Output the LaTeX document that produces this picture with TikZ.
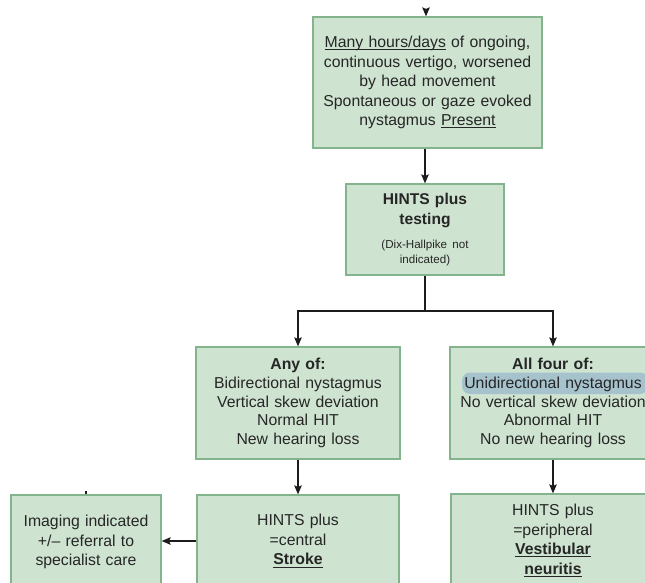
\documentclass[tikz,border=0pt]{standalone}
\usepackage{fontspec}
\setmainfont{Liberation Sans}
\usetikzlibrary{arrows.meta}
\definecolor{boxfill}{RGB}{207,227,209}
\definecolor{boxline}{RGB}{132,180,142}
\definecolor{txt}{RGB}{38,38,38}
\definecolor{hl}{RGB}{166,195,205}
\definecolor{arrowc}{RGB}{28,28,28}
\newcommand{\myul}[1]{\setbox0\hbox{#1}\rlap{\rule[-2.6pt]{\wd0}{0.9pt}}\box0{}}
\begin{document}
\begin{tikzpicture}[x=1pt,y=-1pt,
  box/.style={draw=boxline, fill=boxfill, line width=1.2pt, inner sep=0pt,
    text=txt, align=center, font=\fontsize{15.8}{19.5}\selectfont},
  arr/.style={draw=arrowc, line width=1.4pt, -{Stealth[length=9pt,width=7.5pt,inset=1.5pt]}},
  tick/.style={draw=arrowc, line width=1.4pt}]
\useasboundingbox (0,0) rectangle (645,582);
\node[box, text width=229pt, minimum height=131pt] (top) at (427.5,82.5)
  {\myul{Many hours/days} of ongoing,\\ continuous vertigo, worsened\\ by head movement\\ Spontaneous or gaze evoked\\ nystagmus \myul{Present}};
\node[box, text width=158pt, minimum height=91pt] (hints) at (425,229.5)
  {{\fontsize{15.6}{20}\bfseries HINTS plus\\ testing\par}\vspace{9pt}{\fontsize{11.6}{15}\selectfont (Dix-Hallpike not\\ indicated)\par}};
\node[box, text width=204pt, minimum height=112pt, font=\fontsize{15.8}{18.8}\selectfont] (lm) at (298,403)
  {\textbf{Any of:}\\ Bidirectional nystagmus\\ Vertical skew deviation\\ Normal HIT\\ New hearing loss};
\node[box, text width=206pt, minimum height=112pt, font=\fontsize{15.8}{18.8}\selectfont,
  path picture={\fill[hl, rounded corners=8pt]
    ([shift={(12pt,-25.5pt)}]path picture bounding box.north west) rectangle
    ([shift={(198pt,-47pt)}]path picture bounding box.north west);}] (rm) at (553,403)
  {\textbf{All four of:}\\ Unidirectional nystagmus\\ No vertical skew deviation\\ Abnormal HIT\\ No new hearing loss};
\node[box, text width=202pt, minimum height=92pt] (bm) at (298,541)
  {HINTS plus\\ =central\\ \textbf{\myul{Stroke}}};
\node[box, text width=204pt, minimum height=93pt] (br) at (553,540.5)
  {HINTS plus\\ =peripheral\\ \textbf{\myul{Vestibular}}\\ \textbf{\myul{neuritis}}};
\node[box, text width=150pt, minimum height=94pt] (bl) at (86,542)
  {Imaging indicated\\ +/-- referral to\\ specialist care};
\coordinate (topin) at (426,9);
\coordinate (blin) at (86,491);
\coordinate (split) at (425,311);
\draw[arr] (topin) -- (top.north -| topin);
\draw[tick] (blin) -- (bl.north -| blin);
\draw[arr] (top.south -| hints.north) -- (hints.north);
\draw[tick] (hints.south) -- (split);
\draw[arr] (split) -| (lm.north);
\draw[arr] (split) -| (rm.north);
\draw[arr] (lm.south) -- (bm.north);
\draw[arr] (rm.south) -- (br.north);
\draw[arr] (bm.west) -- (bm.west -| bl.east);
\end{tikzpicture}
\end{document}
